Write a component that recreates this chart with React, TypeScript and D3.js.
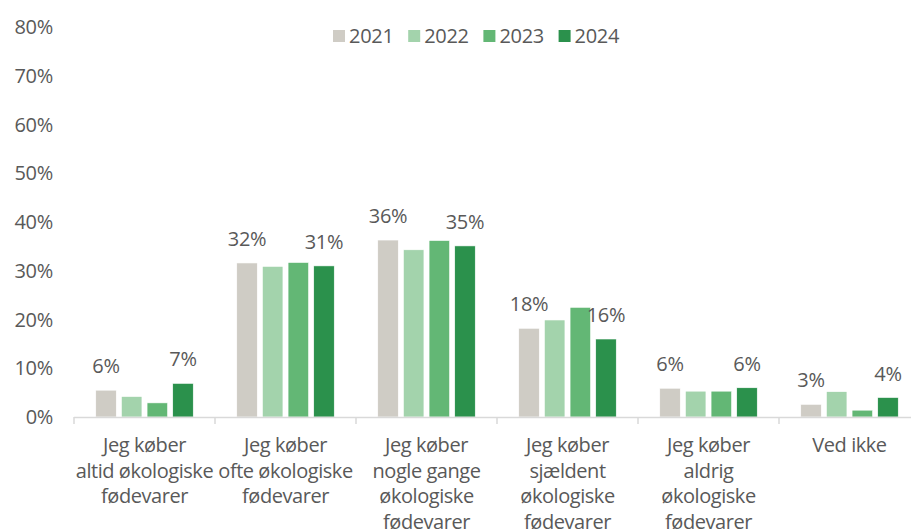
import React from "react";
import * as d3 from "d3";

const categories = [
  "Jeg køber altid økologiske fødevarer",
  "Jeg køber ofte økologiske fødevarer",
  "Jeg køber nogle gange økologiske fødevarer",
  "Jeg køber sjældent økologiske fødevarer",
  "Jeg køber aldrig økologiske fødevarer",
  "Ved ikke",
];
const categoryLines = [
  ["Jeg køber", "altid økologiske", "fødevarer"],
  ["Jeg køber", "ofte økologiske", "fødevarer"],
  ["Jeg køber", "nogle gange", "økologiske", "fødevarer"],
  ["Jeg køber", "sjældent", "økologiske", "fødevarer"],
  ["Jeg køber", "aldrig", "økologiske", "fødevarer"],
  ["Ved ikke"],
];
const years = ["2021", "2022", "2023", "2024"];
const values2021 = [5.5, 31.6, 36.3, 18.2, 5.9, 2.6];
const values2022 = [4.2, 30.9, 34.3, 19.9, 5.3, 5.2];
const values2023 = [2.9, 31.7, 36.2, 22.5, 5.3, 1.4];
const values2024 = [6.9, 31.0, 35.1, 16.0, 6.0, 4.0];
const labels2021 = ["6%", "32%", "36%", "18%", "6%", "3%"];
const labels2024 = ["7%", "31%", "35%", "16%", "6%", "4%"];
const yTicks = [0, 10, 20, 30, 40, 50, 60, 70, 80];
const colors = ["#CFCCC5", "#A3D3AC", "#63B775", "#2B914C"];

const series = [values2021, values2022, values2023, values2024];
const seriesLabels: (string[] | null)[] = [labels2021, null, null, labels2024];

const W = 911;
const H = 529;
const FONT = "'Open Sans', sans-serif";
const TEXT = "#595959";

export default function App() {
  const x = d3.scaleBand<number>().domain(d3.range(categories.length)).range([74, 920]).paddingInner(0).paddingOuter(0);
  const y = d3.scaleLinear().domain([0, 80]).range([417, 27]);
  const inner = d3.scaleBand<number>().domain(d3.range(years.length)).range([0, 97.5]).paddingInner(0.2);
  const groupW = 97.5;

  return (
    <svg width={W} height={H} style={{ position: "absolute", left: 0, top: 0 }} fontFamily={FONT}>
      <rect width={W} height={H} fill="#fff" />
      {yTicks.map((t) => (
        <text key={t} x={53} y={y(t)} dy="0.35em" textAnchor="end" fontSize={20} fill={TEXT} letterSpacing={-0.3}>
          {t}%
        </text>
      ))}
      {categories.map((c, i) => {
        const x0 = (x(i) as number) + (x.bandwidth() - groupW) / 2;
        return (
          <g key={c}>
            {series.map((vals, s) => {
              const bx = x0 + (inner(s) as number);
              const by = y(vals[i]);
              const lbl = seriesLabels[s];
              return (
                <g key={s}>
                  <rect x={bx} y={by} width={inner.bandwidth()} height={y(0) - by} fill={colors[s]} stroke="#fff" strokeWidth={0.6} />
                  {lbl && (
                    <text x={bx + inner.bandwidth() / 2} y={by - 17} textAnchor="middle" fontSize={20} fill={TEXT} letterSpacing={-0.3}>
                      {lbl[i]}
                    </text>
                  )}
                </g>
              );
            })}
            {categoryLines[i].map((line, k) => (
              <text key={k} x={(x(i) as number) + x.bandwidth() / 2} y={445 + k * 25.5} dy="0.35em" textAnchor="middle" fontSize={20} fill={TEXT} letterSpacing={-0.45}>
                {line}
              </text>
            ))}
          </g>
        );
      })}
      <line x1={74} x2={920} y1={417.5} y2={417.5} stroke="#D9D9D9" strokeWidth={1.5} />
      {d3.range(categories.length + 1).map((i) => {
        const tx = 74 + i * x.step();
        return <line key={i} x1={tx} x2={tx} y1={417} y2={424} stroke="#D9D9D9" strokeWidth={1.5} />;
      })}
      {years.map((yr, i) => {
        const lx = 333 + i * 75.2;
        return (
          <g key={yr}>
            <rect x={lx} y={30} width={12} height={12} fill={colors[i]} />
            <text x={lx + 16} y={36} dy="0.35em" fontSize={20} fill={TEXT} letterSpacing={-0.3}>
              {yr}
            </text>
          </g>
        );
      })}
    </svg>
  );
}
